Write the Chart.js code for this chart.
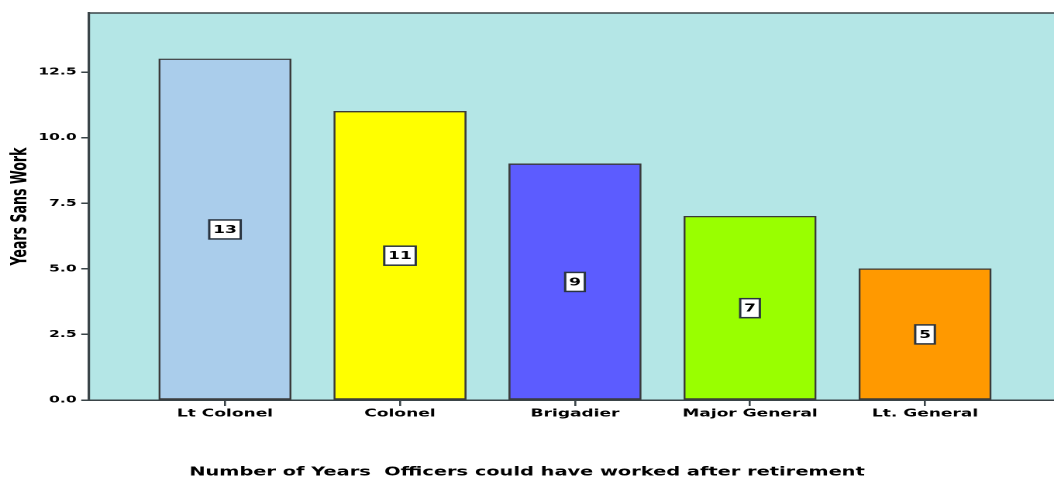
<!DOCTYPE html>
<html>
<head>
<meta charset="utf-8">
<script src="https://cdn.jsdelivr.net/npm/chart.js@4/dist/chart.umd.min.js"></script>
<style>
  html, body { margin: 0; padding: 0; background: #ffffff; overflow: hidden; }
  /* the reference picture is horizontally stretched; reproduce that stretch */
  #wrap { width: 680px; height: 481px; transform: scaleX(1.55); transform-origin: 0 0; }
</style>
</head>
<body>
<div id="wrap"><canvas id="c" width="680" height="481"></canvas></div>
<script>
const categories = ["Lt Colonel", "Colonel", "Brigadier", "Major General", "Lt. General"];
const yearsSansWork = [13, 11, 9, 7, 5];
const barColors = ["#AACDEB", "#FFFF00", "#5C5CFF", "#99FF00", "#FF9900"];
const yTicks = [0, 2.5, 5, 7.5, 10, 12.5];
const yTitle = "Years Sans Work";
const xTitle = "Number of Years  Officers could have worked after retirement";

const points = categories.map((c, i) => ({ x: i, y: yearsSansWork[i] }));

const bgPlugin = {
  id: 'plotBg',
  beforeDraw(chart) {
    const { ctx, chartArea: a } = chart;
    ctx.save();
    ctx.fillStyle = '#B4E6E6';
    ctx.fillRect(a.left, a.top, a.right - a.left, a.bottom - a.top);
    ctx.strokeStyle = '#3a4448';
    ctx.lineWidth = 1.5;
    ctx.beginPath();
    ctx.moveTo(a.left, a.top);
    ctx.lineTo(a.right, a.top);
    ctx.stroke();
    ctx.restore();
  }
};

const labelPlugin = {
  id: 'boxLabels',
  afterDatasetsDraw(chart) {
    const { ctx } = chart;
    const meta = chart.getDatasetMeta(0);
    const yScale = chart.scales.y;
    ctx.save();
    ctx.font = 'bold 11px "DejaVu Sans", Verdana, sans-serif';
    ctx.textAlign = 'center';
    ctx.textBaseline = 'middle';
    meta.data.forEach((bar, i) => {
      const v = yearsSansWork[i];
      const txt = String(v);
      const cy = yScale.getPixelForValue(v / 2);
      const cx = bar.x;
      const w = ctx.measureText(txt).width + 5;
      const h = 19;
      ctx.fillStyle = '#ffffff';
      ctx.fillRect(cx - w / 2, cy - h / 2, w, h);
      ctx.strokeStyle = '#2a3440';
      ctx.lineWidth = 1.5;
      ctx.strokeRect(cx - w / 2, cy - h / 2, w, h);
      ctx.fillStyle = '#000000';
      ctx.fillText(txt, cx, cy + 0.5);
    });
    ctx.restore();
  }
};

new Chart(document.getElementById('c'), {
  type: 'bar',
  data: {
    datasets: [{
      data: points,
      backgroundColor: barColors,
      borderColor: '#3a3a3a',
      borderWidth: 1.3,
      borderSkipped: false,
      barThickness: 85.2
    }]
  },
  options: {
    responsive: false,
    devicePixelRatio: 2,
    animation: false,
    events: [],
    layout: { padding: { top: 13, right: 0, bottom: 0, left: 0 } },
    plugins: {
      legend: { display: false },
      tooltip: { enabled: false },
      title: {
        display: true,
        position: 'bottom',
        text: xTitle,
        color: '#000000',
        padding: { top: 34.5, bottom: 1.5 },
        font: { family: '"DejaVu Sans", Verdana, sans-serif', size: 12.5, weight: 'bold', lineHeight: 1.2 }
      }
    },
    scales: {
      x: {
        type: 'linear',
        min: -0.777,
        max: 4.737,
        offset: false,
        afterFit(scale) { scale.height = 30; },
        afterBuildTicks(scale) {
          scale.ticks = categories.map((c, i) => ({ value: i }));
        },
        ticks: {
          autoSkip: false,
          maxRotation: 0,
          padding: 1,
          color: '#000000',
          font: { family: '"DejaVu Sans", Verdana, sans-serif', size: 11, weight: 'bold' },
          callback: (v) => categories[v] !== undefined ? categories[v] : ''
        },
        grid: { offset: false, drawOnChartArea: false, tickLength: 6, color: '#3a4448', lineWidth: 1.3 },
        border: { display: true, color: '#3a4448', width: 1.5 }
      },
      y: {
        min: 0,
        max: 14.75,
        afterFit(scale) { scale.width = 57.4; },
        afterBuildTicks(scale) {
          scale.ticks = yTicks.map(v => ({ value: v }));
        },
        ticks: {
          padding: 3,
          color: '#000000',
          font: { family: '"DejaVu Sans", Verdana, sans-serif', size: 10, weight: 'bold' },
          callback: (v) => Number(v).toFixed(1)
        },
        grid: { drawOnChartArea: false, tickLength: 5, color: '#3a4448', lineWidth: 1.5 },
        border: { display: true, color: '#3a4448', width: 1.6 },
        title: {
          display: true,
          text: yTitle,
          color: '#000000',
          padding: { top: 5, bottom: 0 },
          font: { family: '"DejaVu Sans Condensed", "DejaVu Sans", sans-serif', size: 14, weight: 'bold' }
        }
      }
    }
  },
  plugins: [bgPlugin, labelPlugin]
});
</script>
</body>
</html>
